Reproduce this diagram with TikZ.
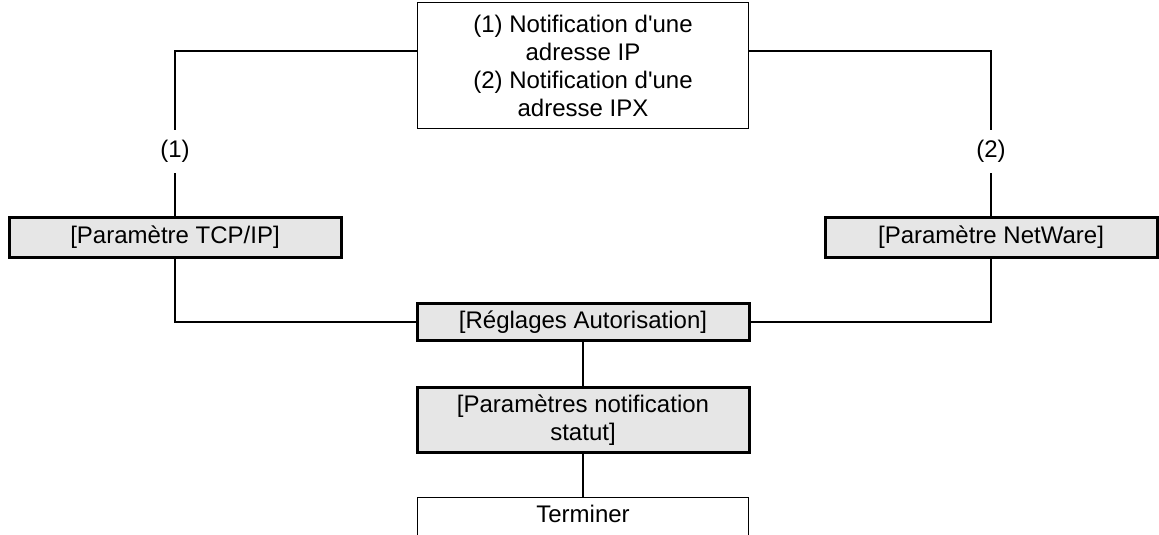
\documentclass[tikz,border=0pt]{standalone}
\usepackage{fontspec}
\setmainfont{Liberation Sans}
\usepackage{tikz}
\usetikzlibrary{positioning}

\definecolor{boxgray}{HTML}{E6E6E6}

\begin{document}
\begin{tikzpicture}[
    x=1pt, y=1pt,
    node distance=44pt,
    menu/.style={
        draw,
        line width=3pt,
        fill=boxgray,
        align=center,
        font=\fontsize{24}{28.5}\selectfont,
        minimum width=332pt,
        inner sep=0pt
    },
    plain/.style={
        draw,
        line width=1.1pt,
        align=center,
        font=\fontsize{24}{28}\selectfont,
        minimum width=331pt,
        inner sep=0pt
    },
    tag/.style={
        font=\fontsize{24}{28}\selectfont,
        minimum height=43pt,
        inner sep=0pt
    },
    link/.style={line width=1.1pt}
]

\useasboundingbox (0,0) rectangle (1159,-535);

\node[plain, minimum height=126pt] (note) at (583,-65.5)
{(1) Notification d\textquotesingle une\\adresse IP\\(2) Notification d\textquotesingle une\\adresse IPX};

\node[menu, minimum height=40pt] (tcpip) at (175,-237.5)
{[Paramètre TCP/IP]};

\node[menu, minimum height=40pt] (netware) at (991,-237.5)
{[Paramètre NetWare]};

\node[menu, minimum height=37pt] (reglages) at (583,-322)
{[Réglages Autorisation]};

\node[menu, minimum height=65pt, below=44pt of reglages] (statut)
{[Paramètres notification\\statut]};

\node[plain, minimum height=42pt, text height=17pt, text depth=10pt,
      below=43pt of statut] (terminer)
{Terminer};

\node[tag] (opt1) at (175,-151.5) {(1)};
\node[tag] (opt2) at (991,-151.5) {(2)};

\coordinate (noteL) at ([yshift=14.5pt]note.west);
\coordinate (noteR) at ([yshift=14.5pt]note.east);

\draw[link] (noteL) -| (opt1.north);
\draw[link] (opt1.south) -- (tcpip.north);
\draw[link] (noteR) -| (opt2.north);
\draw[link] (opt2.south) -- (netware.north);
\draw[link] (tcpip.south) |- (reglages.west);
\draw[link] (netware.south) |- (reglages.east);
\draw[link] (reglages) -- (statut);
\draw[link] (statut) -- (terminer);

\end{tikzpicture}
\end{document}
